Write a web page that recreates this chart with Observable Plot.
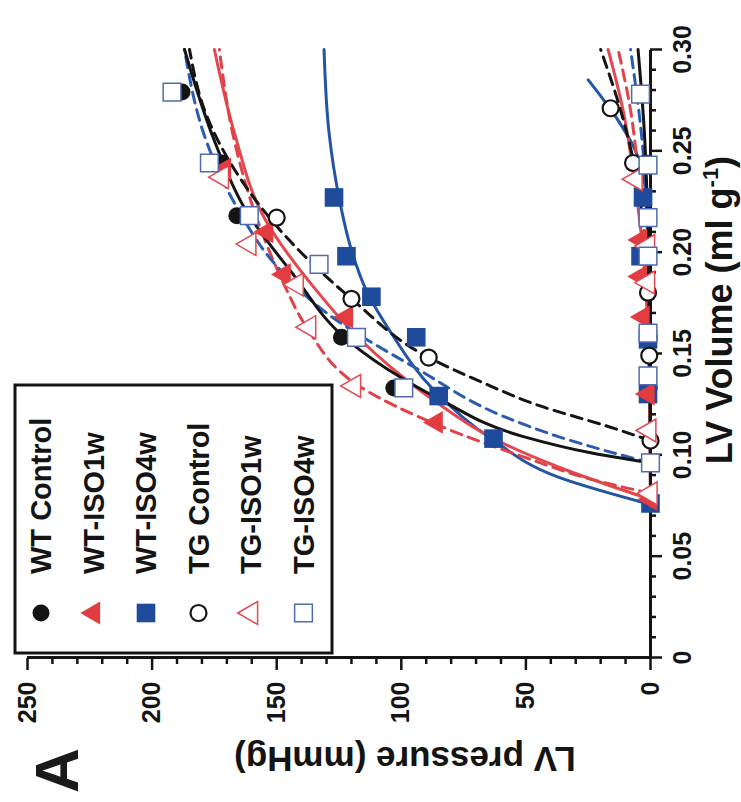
<!DOCTYPE html>
<html><head><meta charset="utf-8">
<script src="https://cdn.jsdelivr.net/npm/d3@7"></script>
<script src="https://cdn.jsdelivr.net/npm/@observablehq/plot@0.6"></script>
<style>
html,body{margin:0;padding:0;background:#fff;}
#page{position:relative;width:741px;height:802px;overflow:hidden;background:#fff;}
#fig{position:absolute;left:0;top:0;width:802px;height:741px;transform-origin:0 0;transform:translate(0px,802px) rotate(-90deg);}
#fig svg{position:absolute;left:0;top:0;overflow:visible;}
</style></head><body><div id="page"><div id="fig"></div></div>
<script>
// ---- data (volume ml/g, pressure mmHg) ----
const seriesNames = ["WT Control","WT-ISO1w","WT-ISO4w","TG Control","TG-ISO1w","TG-ISO4w"];

const wtControlPts = [[0.279,188],[0.244,172],[0.218,166],[0.158,124],[0.133,103],[0.096,0],[0.244,2],[0.218,1],[0.158,0.5],[0.133,0.5]];
const wtIso1Pts    = [[0.241,171],[0.210,154],[0.189,147],[0.168,122],[0.116,86],[0.078,0],[0.206,4],[0.188,4],[0.168,3],[0.130,1]];
const wtIso4Pts    = [[0.227,127],[0.198,122],[0.178,112],[0.158,94],[0.129,85],[0.108,63],[0.076,0],[0.227,3],[0.198,4],[0.157,1],[0.130,1]];
const tgControlPts = [[0.217,150],[0.177,120],[0.148,89],[0.107,0],[0.271,16],[0.244,7],[0.180,1],[0.149,0.5]];
const tgIso1Pts    = [[0.237,172],[0.204,161],[0.184,142],[0.163,137],[0.134,119],[0.081,0],[0.236,6],[0.203,1],[0.185,1],[0.112,0.5]];
const tgIso4Pts    = [[0.279,192],[0.244,177],[0.218,161],[0.194,133],[0.158,118],[0.133,99],[0.096,0],[0.278,4],[0.243,1],[0.217,1],[0.198,1],[0.160,1],[0.139,1]];

// fitted curves
const wtControlSys = [[0.096,0],[0.101,24],[0.109,51],[0.127,84],[0.138,100],[0.156,121],[0.190,144],[0.222,163],[0.255,175],[0.300,187]];
const wtIso1Sys    = [[0.078,0],[0.094,37],[0.108,63],[0.126,86],[0.139,100],[0.160,119],[0.181,134],[0.217,155],[0.259,167],[0.300,175]];
const wtIso4Sys    = [[0.0755,0],[0.089,37],[0.108,64],[0.132,87],[0.160,104],[0.181,114],[0.201,120],[0.227,125],[0.259,129],[0.300,131]];
const tgControlSys = [[0.107,0],[0.114,17],[0.124,44],[0.136,68],[0.148,89],[0.177,120],[0.210,148],[0.239,166],[0.267,178],[0.300,185]];
const tgIso1Sys    = [[0.081,0],[0.088,24],[0.099,51],[0.114,84],[0.134,117],[0.163,138],[0.184,147],[0.210,156],[0.255,167],[0.300,173]];
const tgIso4Sys    = [[0.096,0],[0.109,37],[0.119,59],[0.142,93],[0.170,130],[0.196,152],[0.220,165],[0.254,178],[0.300,187]];

const wtControlDia = [[0.096,0],[0.180,0.5],[0.220,1.2],[0.260,2.5],[0.300,5]];
const wtIso1Dia    = [[0.078,0],[0.160,1],[0.200,3],[0.240,7],[0.270,11],[0.300,17]];
const wtIso4Dia    = [[0.076,0],[0.180,0.5],[0.230,2],[0.250,6],[0.265,13],[0.285,25]];
const tgControlDia = [[0.107,0],[0.170,0.5],[0.200,2],[0.240,6],[0.270,12],[0.300,20]];
const tgIso1Dia    = [[0.081,0],[0.160,0.5],[0.200,2],[0.240,5],[0.270,8],[0.300,13]];
const tgIso4Dia    = [[0.096,0],[0.200,1],[0.250,3],[0.300,8]];

const volumeTicks = [0,0.05,0.10,0.15,0.20,0.25,0.30];
const volumeTickLabels = ["0","0.05","0.10","0.15","0.20","0.25","0.30"];
const pressureTicks = [0,50,100,150,200,250];
const pressureTickLabels = ["0","50","100","150","200","250"];
const xLabelMain = "LV Volume (ml g";
const xLabelSup = "-1";
const xLabelEnd = ")";
const yLabel = "LV pressure (mmHg)";
const panelLabel = "A";

// ---- styles ----
const RED = "#e23b40", BLUE = "#1e4b9c", BLACK = "#141414";
const styles = {
  "WT Control": {line: BLACK, dash: null, symbol: "circle",   fill: BLACK,  stroke: "none", sw: 0,   r: 8.5},
  "WT-ISO1w":   {line: "#e5474f", dash: null, symbol: "triangle", fill: RED,  stroke: "none", sw: 0,   r: 8.5},
  "WT-ISO4w":   {line: "#2354a5", dash: null, symbol: "square",   fill: BLUE, stroke: "none", sw: 0,   r: 10.5},
  "TG Control": {line: BLACK, dash: "11,7", symbol: "circle",   fill: "white", stroke: BLACK, sw: 2.2, r: 8},
  "TG-ISO1w":   {line: "#e0424a", dash: "11,7", symbol: "triangle", fill: "white", stroke: "#e04a52", sw: 1.5, r: 8.5},
  "TG-ISO4w":   {line: "#2a5db0", dash: "11,7", symbol: "square",   fill: "white", stroke: "#4f6cb0", sw: 1.5, r: 10}
};
const series = [
  {name: seriesNames[0], pts: wtControlPts, sys: wtControlSys, dia: wtControlDia},
  {name: seriesNames[1], pts: wtIso1Pts,    sys: wtIso1Sys,    dia: wtIso1Dia},
  {name: seriesNames[2], pts: wtIso4Pts,    sys: wtIso4Sys,    dia: wtIso4Dia},
  {name: seriesNames[3], pts: tgControlPts, sys: tgControlSys, dia: tgControlDia},
  {name: seriesNames[4], pts: tgIso1Pts,    sys: tgIso1Sys,    dia: tgIso1Dia},
  {name: seriesNames[5], pts: tgIso4Pts,    sys: tgIso4Sys,    dia: tgIso4Dia}
];

const FONT = "'Liberation Sans', Arial, Helvetica, sans-serif";
const marks = [];
// curves
const lineOrder = [2,1,4,5,3,0];
for (const i of lineOrder) {
  const s = series[i], st = styles[s.name];
  for (const c of [s.dia, s.sys]) {
    marks.push(Plot.line(c, {x: d => d[0], y: d => d[1], stroke: st.line, strokeWidth: 3,
      strokeDasharray: st.dash || undefined, curve: "monotone-x"}));
  }
}
// axes
marks.push(Plot.axisX({ticks: d3.range(1, 30).filter(k => k % 5 !== 0).map(k => k / 100), tickSize: 6, text: null, strokeWidth: 2.5, stroke: BLACK}));
marks.push(Plot.axisX({ticks: volumeTicks, tickFormat: d => volumeTickLabels[volumeTicks.indexOf(d)], tickSize: 12, tickPadding: 11, strokeWidth: 2.5, stroke: BLACK, label: null, fontSize: 25, fontWeight: "bold", fill: BLACK}));
marks.push(Plot.axisY({ticks: d3.range(10, 250, 10).filter(k => k % 50 !== 0), tickSize: 6, text: null, strokeWidth: 2.5, stroke: BLACK}));
marks.push(Plot.axisY({ticks: pressureTicks, tickFormat: d => pressureTickLabels[pressureTicks.indexOf(d)], tickSize: 12, tickPadding: 12, strokeWidth: 2.5, stroke: BLACK, label: null, fontSize: 25, fontWeight: "bold", fill: BLACK}));
marks.push(Plot.ruleY([0], {x1: 0, x2: 0.30, stroke: BLACK, strokeWidth: 3}));
marks.push(Plot.ruleX([0], {y1: 0, y2: 250, stroke: BLACK, strokeWidth: 3}));
// points
const dotOrder = [0,2,1,3,4,5];
for (const i of dotOrder) {
  const s = series[i], st = styles[s.name];
  marks.push(Plot.dot(s.pts, {x: d => d[0], y: d => d[1], symbol: st.symbol, r: st.r,
    fill: st.fill, stroke: st.stroke, strokeWidth: st.sw}));
}

const chart = Plot.plot({
  width: 802, height: 741,
  marginLeft: 144, marginRight: 50, marginTop: 27, marginBottom: 91,
  x: {domain: [0, 0.30]}, y: {domain: [0, 250]},
  style: {fontFamily: FONT, fontWeight: "bold", background: "white", color: BLACK},
  marks
});
document.getElementById("fig").appendChild(chart);

// ---- labels and legend drawn into the same svg ----
const svg = d3.select(chart);
svg.selectAll("text").style("font-family", FONT).style("font-weight", "bold");

const xl = svg.append("text").attr("x", 492).attr("y", 732).attr("text-anchor", "middle")
  .style("font-family", FONT).style("font-weight", "bold").style("font-size", "36px").attr("fill", BLACK);
xl.append("tspan").text(xLabelMain);
xl.append("tspan").attr("dy", -14).style("font-size", "22px").text(xLabelSup);
xl.append("tspan").attr("dy", 14).text(xLabelEnd);

svg.append("text").attr("transform", "translate(55,405) rotate(-90)").attr("text-anchor", "middle")
  .style("font-family", FONT).style("font-weight", "bold").style("font-size", "35px").attr("fill", BLACK)
  .text(yLabel);

svg.append("text").attr("x", 9).attr("y", 78).attr("text-anchor", "start")
  .style("font-family", FONT).style("font-weight", "bold").style("font-size", "62px").attr("fill", "#1a1a1a")
  .text(panelLabel);

const lg = svg.append("g");
lg.append("rect").attr("x", 149).attr("y", 15).attr("width", 268).attr("height", 317)
  .attr("fill", "white").attr("stroke", BLACK).attr("stroke-width", 3);
const symMap = {circle: d3.symbolCircle, triangle: d3.symbolTriangle, square: d3.symbolSquare};
seriesNames.forEach((name, i) => {
  const st = styles[name];
  const cy = 41 + i * 52.5;
  lg.append("path").attr("d", d3.symbol(symMap[st.symbol], Math.PI * st.r * st.r)())
    .attr("transform", `translate(189,${cy})`)
    .attr("fill", st.fill).attr("stroke", st.stroke).attr("stroke-width", st.sw);
  lg.append("text").attr("x", 228).attr("y", cy + 10).attr("text-anchor", "start")
    .style("font-family", FONT).style("font-weight", "bold").style("font-size", "29px").attr("fill", BLACK)
    .text(name);
});
</script>
</body></html>
